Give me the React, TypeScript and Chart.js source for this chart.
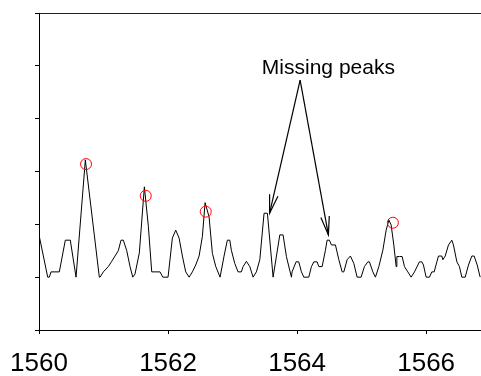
import { useEffect, useRef } from "react";
import { Chart, registerables } from "chart.js";

Chart.register(...registerables);

const FONT = 'Arial, "Liberation Sans", sans-serif';

const X_MIN = 1560;
const X_MAX = 1566.85;
const Y_MIN = 0;
const Y_MAX = 6;

const xTickValues = [1560, 1562, 1564, 1566];
const yTickValues = [0, 1, 2, 3, 4, 5, 6];

// Spectrum trace (wavelength, intensity)
const traceX = [
  1560.0, 1560.135, 1560.16, 1560.186, 1560.315, 1560.408, 1560.485, 1560.574, 1560.718, 1560.935,
  1560.946, 1560.997, 1561.074, 1561.127, 1561.178, 1561.229, 1561.271, 1561.307, 1561.36, 1561.411,
  1561.453, 1561.488, 1561.555, 1561.633, 1561.695, 1561.747, 1561.876, 1561.918,
  1562.0, 1562.067, 1562.119, 1562.171, 1562.222, 1562.274, 1562.326, 1562.377, 1562.429, 1562.481,
  1562.532, 1562.574, 1562.636, 1562.687, 1562.74, 1562.806, 1562.868, 1562.919, 1562.957,
  1562.981, 1563.034, 1563.085, 1563.136, 1563.163, 1563.214, 1563.267, 1563.318, 1563.369, 1563.422,
  1563.488, 1563.54, 1563.628, 1563.732, 1563.783, 1563.834, 1563.912,
  1563.922, 1563.984, 1564.026, 1564.067, 1564.104, 1564.181, 1564.222, 1564.259, 1564.31, 1564.336,
  1564.388, 1564.439, 1564.465, 1564.501, 1564.532, 1564.594, 1564.647, 1564.698, 1564.724, 1564.775,
  1564.826, 1564.879, 1564.93,
  1564.992, 1565.043, 1565.096, 1565.121, 1565.174, 1565.214, 1565.267, 1565.329, 1565.38, 1565.422,
  1565.457, 1565.499, 1565.535, 1565.546, 1565.586, 1565.628, 1565.664, 1565.716, 1565.767, 1565.819,
  1565.896, 1565.933,
  1565.958, 1566.0, 1566.051, 1566.088, 1566.124, 1566.166, 1566.191, 1566.243, 1566.259, 1566.295,
  1566.346, 1566.398, 1566.423, 1566.476, 1566.516, 1566.553, 1566.605, 1566.656, 1566.708, 1566.744,
  1566.791, 1566.837,
];
const traceY = [
  1.8, 1.0, 1.0, 1.1, 1.1, 1.7, 1.7, 1.0, 3.22, 1.0,
  1.0, 1.1, 1.2, 1.3, 1.4, 1.5, 1.7, 1.7, 1.5, 1.2,
  1.0, 1.06, 1.46, 2.71, 1.96, 1.1, 1.1, 1.0,
  1.0, 1.74, 1.89, 1.74, 1.4, 1.1, 1.0, 1.1, 1.23, 1.4,
  1.77, 2.41, 2.14, 1.45, 1.2, 1.0, 1.4, 1.7, 1.7,
  1.51, 1.26, 1.1, 1.1, 1.2, 1.3, 1.2, 1.0, 1.1, 1.33,
  2.21, 2.21, 1.0, 1.8, 1.8, 1.39, 1.0,
  1.1, 1.29, 1.29, 1.1, 1.0, 1.0, 1.2, 1.29, 1.29, 1.2,
  1.2, 1.51, 1.7, 1.7, 1.61, 1.61, 1.33, 1.1, 1.1, 1.33,
  1.4, 1.26, 1.0,
  1.0, 1.2, 1.29, 1.29, 1.1, 1.0, 1.2, 1.51, 1.89, 2.08,
  1.99, 1.61, 1.2, 1.39, 1.39, 1.39, 1.2, 1.1, 1.0, 1.1,
  1.29, 1.29,
  1.23, 1.0, 1.0, 1.1, 1.1, 1.29, 1.4, 1.4, 1.33, 1.4,
  1.61, 1.7, 1.61, 1.29, 1.2, 1.0, 1.0, 1.23, 1.4, 1.4,
  1.23, 1.0,
];

// Detected peaks (red circles)
const peakX = [1560.729, 1561.654, 1562.584, 1565.484];
const peakY = [3.14, 2.54, 2.24, 2.03];

// Annotation
const noteText = "Missing peaks";
const noteX = 1564.485;
const noteY = 4.95;
const arrowFromX = 1564.047;
const arrowFromY = 4.73;
const arrowToX = [1563.574, 1564.485];
const arrowToY = [2.21, 1.8];

const annotationPlugin = {
  id: "missingPeaks",
  afterDatasetsDraw(chart: any) {
    const { ctx, scales } = chart;
    const xs = scales.x;
    const ys = scales.y;
    ctx.save();
    ctx.fillStyle = "#000";
    ctx.font = `21px ${FONT}`;
    ctx.textAlign = "center";
    ctx.textBaseline = "middle";
    ctx.fillText(noteText, xs.getPixelForValue(noteX), ys.getPixelForValue(noteY));

    ctx.strokeStyle = "#000";
    ctx.lineWidth = 1.2;
    const sx = xs.getPixelForValue(arrowFromX);
    const sy = ys.getPixelForValue(arrowFromY);
    for (let i = 0; i < arrowToX.length; i++) {
      const tx = xs.getPixelForValue(arrowToX[i]);
      const ty = ys.getPixelForValue(arrowToY[i]);
      ctx.beginPath();
      ctx.moveTo(sx, sy);
      ctx.lineTo(tx, ty);
      ctx.stroke();
      const ang = Math.atan2(sy - ty, sx - tx);
      const len = 19;
      const spread = (13 * Math.PI) / 180;
      ctx.beginPath();
      ctx.moveTo(tx + len * Math.cos(ang - spread), ty + len * Math.sin(ang - spread));
      ctx.lineTo(tx, ty);
      ctx.lineTo(tx + len * Math.cos(ang + spread), ty + len * Math.sin(ang + spread));
      ctx.stroke();
    }
    ctx.restore();
  },
};

export default function App() {
  const canvasRef = useRef<HTMLCanvasElement | null>(null);

  useEffect(() => {
    const canvas = canvasRef.current;
    if (!canvas) return;
    const chart = new Chart(canvas, {
      type: "line",
      data: {
        datasets: [
          {
            type: "scatter",
            data: peakX.map((x, i) => ({ x, y: peakY[i] })),
            pointRadius: 5.5,
            hoverRadius: 5.5,
            pointStyle: "circle",
            pointBorderColor: "#ff0000",
            pointBackgroundColor: "rgba(0,0,0,0)",
            pointBorderWidth: 1,
            showLine: false,
            clip: false,
            xAxisID: "x",
            yAxisID: "y",
          } as any,
          {
            type: "line",
            data: traceX.map((x, i) => ({ x, y: traceY[i] })),
            borderColor: "#000",
            borderWidth: 1,
            pointRadius: 0,
            pointHoverRadius: 0,
            tension: 0,
            fill: false,
            xAxisID: "x",
            yAxisID: "y",
          },
        ],
      },
      options: {
        animation: false,
        responsive: false,
        maintainAspectRatio: false,
        events: [],
        layout: { autoPadding: false, padding: { left: 35, top: 13, right: 0, bottom: 0 } },
        plugins: { legend: { display: false }, tooltip: { enabled: false } },
        scales: {
          x: {
            type: "linear",
            position: "bottom",
            min: X_MIN,
            max: X_MAX,
            afterBuildTicks: (s: any) => {
              s.ticks = xTickValues.map((v) => ({ value: v }));
            },
            afterFit: (s: any) => {
              s.height = 46;
              s.paddingLeft = 0;
              s.paddingRight = 0;
            },
            ticks: {
              color: "#000",
              font: { family: FONT, size: 26, lineHeight: 24 / 26 },
              padding: 18,
              maxRotation: 0,
              autoSkip: false,
              callback: (v: any) => String(v),
            },
            grid: { display: true, drawOnChartArea: false, drawTicks: true, tickLength: 4, color: "#000", lineWidth: 1 },
            border: { display: true, color: "#000", width: 1 },
          },
          xTop: {
            type: "linear",
            position: "top",
            min: X_MIN,
            max: X_MAX,
            afterFit: (s: any) => {
              s.height = 0;
              s.paddingLeft = 0;
              s.paddingRight = 0;
            },
            ticks: { display: false },
            grid: { display: false },
            border: { display: true, color: "#222", width: 1 },
          },
          y: {
            type: "linear",
            min: Y_MIN,
            max: Y_MAX,
            afterBuildTicks: (s: any) => {
              s.ticks = yTickValues.map((v) => ({ value: v }));
            },
            afterFit: (s: any) => {
              s.width = 4;
              s.paddingTop = 0;
              s.paddingBottom = 0;
            },
            ticks: { display: false },
            grid: { display: true, drawOnChartArea: false, drawTicks: true, tickLength: 4, color: "#000", lineWidth: 1 },
            border: { display: true, color: "#000", width: 1 },
          },
        },
      } as any,
      plugins: [annotationPlugin],
    });
    return () => chart.destroy();
  }, []);

  return (
    <div style={{ position: "absolute", left: 0, top: 0, width: 481, height: 376, overflow: "hidden", background: "#fff" }}>
      <canvas ref={canvasRef} width={481} height={376} style={{ display: "block" }} />
    </div>
  );
}
